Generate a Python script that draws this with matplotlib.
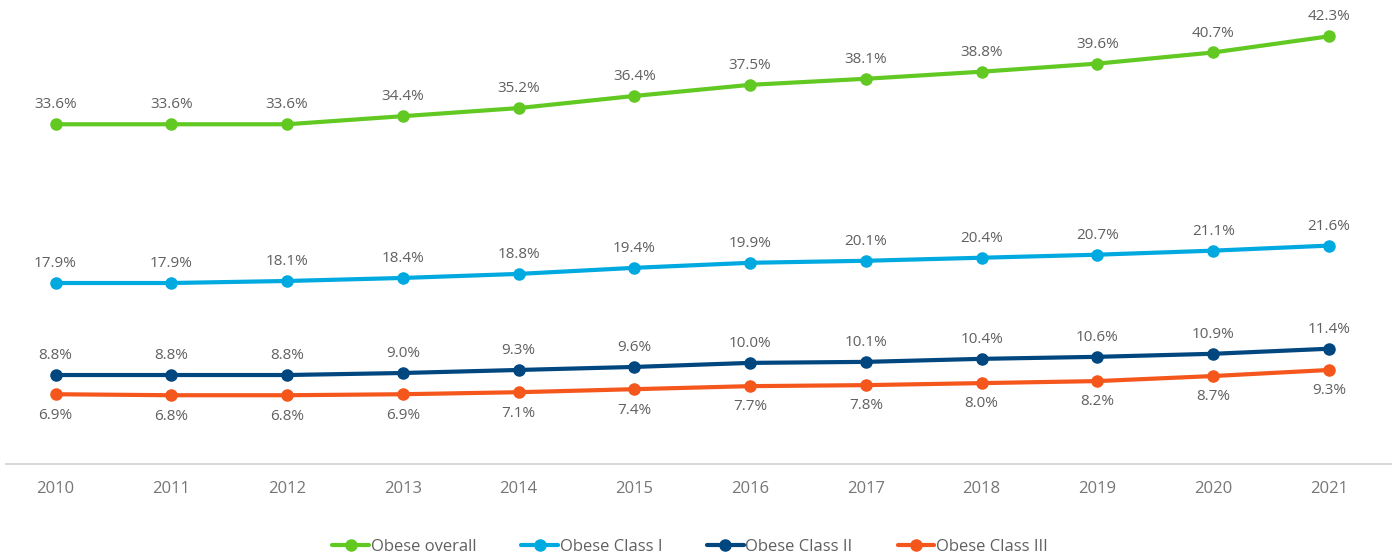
import matplotlib
matplotlib.use("Agg")
import matplotlib.pyplot as plt

years = [2010, 2011, 2012, 2013, 2014, 2015, 2016, 2017, 2018, 2019, 2020, 2021]
obese_overall = [33.6, 33.6, 33.6, 34.4, 35.2, 36.4, 37.5, 38.1, 38.8, 39.6, 40.7, 42.3]
obese_class_1 = [17.9, 17.9, 18.1, 18.4, 18.8, 19.4, 19.9, 20.1, 20.4, 20.7, 21.1, 21.6]
obese_class_2 = [8.8, 8.8, 8.8, 9.0, 9.3, 9.6, 10.0, 10.1, 10.4, 10.6, 10.9, 11.4]
obese_class_3 = [6.9, 6.8, 6.8, 6.9, 7.1, 7.4, 7.7, 7.8, 8.0, 8.2, 8.7, 9.3]

series = [
    ("Obese overall", obese_overall, "#62C923", "above"),
    ("Obese Class I", obese_class_1, "#00A9E0", "above"),
    ("Obese Class II", obese_class_2, "#00467F", "above"),
    ("Obese Class III", obese_class_3, "#F4561B", "below"),
]

plt.rcParams["font.family"] = ["Open Sans", "DejaVu Sans"]

W, H = 1392, 559
fig = plt.figure(figsize=(W / 100, H / 100), dpi=100)
ax = fig.add_axes([6 / W, (H - 464) / H, (W - 6) / W, 455 / H])

label_color = "#606060"
for name, vals, color, pos in series:
    ax.plot(years, vals, color=color, lw=3.0, marker="o", ms=8,
            solid_capstyle="round", label=name, zorder=3)
    for x, v in zip(years, vals):
        dy = 14 if pos == "above" else -15
        ax.annotate(f"{v:.1f}%", (x, v), xytext=(0, dy), textcoords="offset points",
                    ha="center", va="center", fontsize=11, color=label_color)

ax.set_xlim(2010 - 49.5 / 115.77, 2021 + 63 / 115.77)
ax.set_ylim(0, 45)
ax.set_xticks(years)
ax.set_xticklabels([str(y) for y in years])
ax.tick_params(axis="x", length=0, pad=12, labelsize=12, labelcolor="#767676")
ax.set_yticks([])
for side in ["top", "right", "left"]:
    ax.spines[side].set_visible(False)
ax.spines["bottom"].set_color("#D9D9D9")
ax.spines["bottom"].set_linewidth(1.5)

fig.legend(loc="center", bbox_to_anchor=(690 / W, 1 - 547 / H), ncol=4,
           frameon=False, fontsize=12, handlelength=2.2, handletextpad=0.1,
           columnspacing=2.7, labelcolor=label_color)

fig.savefig("out.png", dpi=100)
